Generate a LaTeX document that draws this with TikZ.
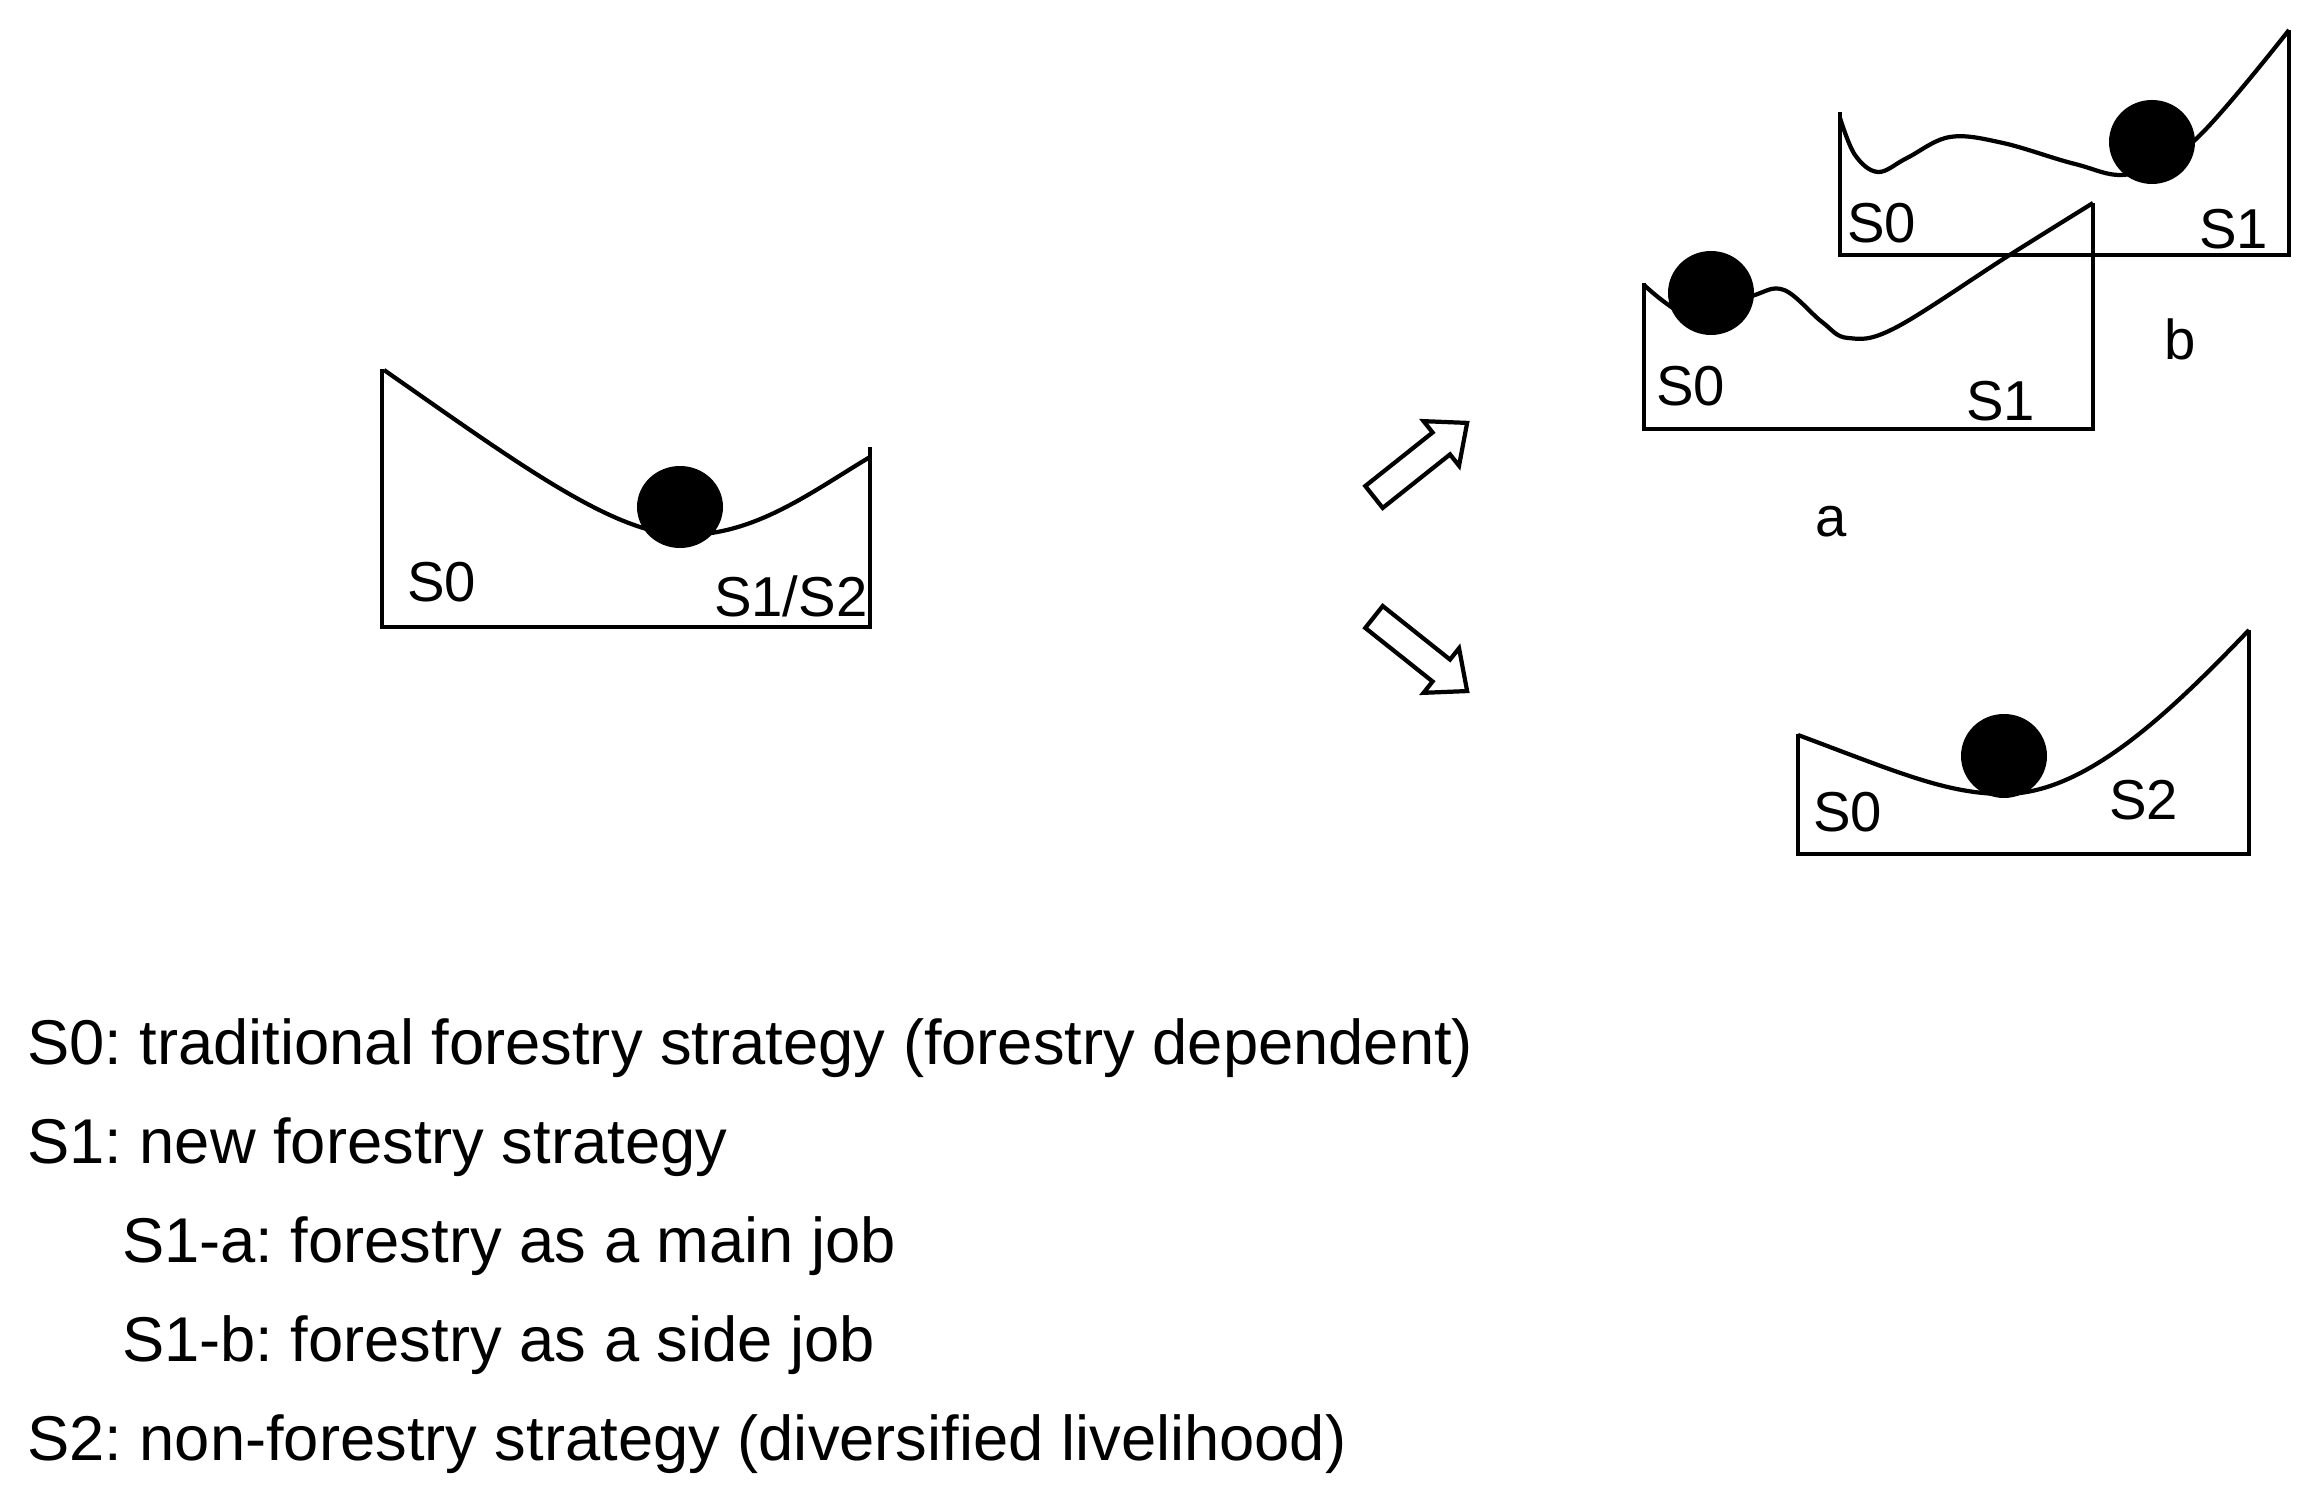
\documentclass[tikz,border=0pt]{standalone}
\usepackage{fontspec}
\setmainfont{Liberation Sans}
\usepackage{tikz}
\usetikzlibrary{positioning, calc}
\frenchspacing

\begin{document}
\begin{tikzpicture}
            [x=0.01cm, y=-0.01cm, line width=1.2pt, line join=miter,
            marble/.style={fill=black},
            shiftarrow/.style={draw=black, fill=white},
            statelabel/.style={inner sep=0, anchor=base west, font=\fontsize{16}{19}\selectfont},
            legend/.style={inner sep=0, anchor=base west, font=\fontsize{18}{22}\selectfont}]

            \useasboundingbox[fill=white] (0,0) rectangle (2317,1504);

            % starting landscape
            \draw (382,369) -- (382,627) -- (870,627) -- (870,447);
            \draw (384,370) .. controls (520,465) and (615,535) .. (685,535)
                            .. controls (755,535) and (810,493) .. (870,457);
            \fill[marble] (680,507) ellipse [x radius=43, y radius=41];
            \node[statelabel] (s0start) at (405,602) {S0};
            \node[statelabel] (s12start) at (712,617) {S1/S2};

            % the two shifts
            \foreach \ang/\ty in {38.5/497, -38.5/617}
              \draw[shiftarrow, shift={(1374,\ty)}, rotate=\ang]
                (0,14) -- (86,14) -- (86,28.5) -- (119,0) -- (86,-28.5) -- (86,-14) -- (0,-14) -- cycle;

            % landscape b
            \draw (1840,112) -- (1840,255) -- (2289,255) -- (2289,30);
            \draw plot[smooth, tension=0.6] coordinates {(1840,118) (1855,155) (1878,172) (1907,158)
                (1950,137) (2003,143) (2075,164) (2130,174) (2195,140) (2289,30)};
            \fill[marble] (2152,142) ellipse [x radius=43, y radius=42];
            \node[statelabel] (s0b) at (1845,243) {S0};
            \node[statelabel] (s1b) at (2197,249) {S1};
            \node[statelabel, anchor=base] (tagb) at (2180,360) {b};

            % landscape a
            \draw (1644,283) -- (1644,429) -- (2093,429) -- (2093,203);
            \draw plot[smooth, tension=0.6] coordinates {(1644,285) (1695,318) (1752,296) (1784,290)
                (1822,322) (1848,338) (1895,328) (2008,256) (2093,203)};
            \fill[marble] (1711,293) ellipse [x radius=43, y radius=42];
            \node[statelabel] (s0a) at (1654,406) {S0};
            \node[statelabel] (s1a) at (1964,421) {S1};
            \node[statelabel, anchor=base] (taga) at (1831,537) {a};

            % landscape S2
            \draw (1798,734) -- (1798,854) -- (2249,854) -- (2249,630);
            \draw (1798,735) .. controls (1897,772) and (1947,794) .. (2004,794)
                             .. controls (2082,794) and (2162,721) .. (2249,630);
            \fill[marble] (2004,756) ellipse [x radius=43, y radius=42];
            \node[statelabel] (s0c) at (1811,832) {S0};
            \node[statelabel] (s2c) at (2107,820) {S2};

            % legend
            \node[legend] (l0) at (25,1065) {S0: traditional forestry strategy (forestry dependent)};
            \node[legend] (l1) at ($(l0.base west)+(0,99)$) {S1: new forestry strategy};
            \node[legend] (l1a) at ($(l1.base west)+(95,99)$) {S1-a: forestry as a main job};
            \node[legend] (l1b) at ($(l1a.base west)+(0,99)$) {S1-b: forestry as a side job};
            \node[legend] (l2) at ($(l1b.base west)+(-95,99)$) {S2: non-forestry strategy (diversified livelihood)};

          \end{tikzpicture}
\end{document}
